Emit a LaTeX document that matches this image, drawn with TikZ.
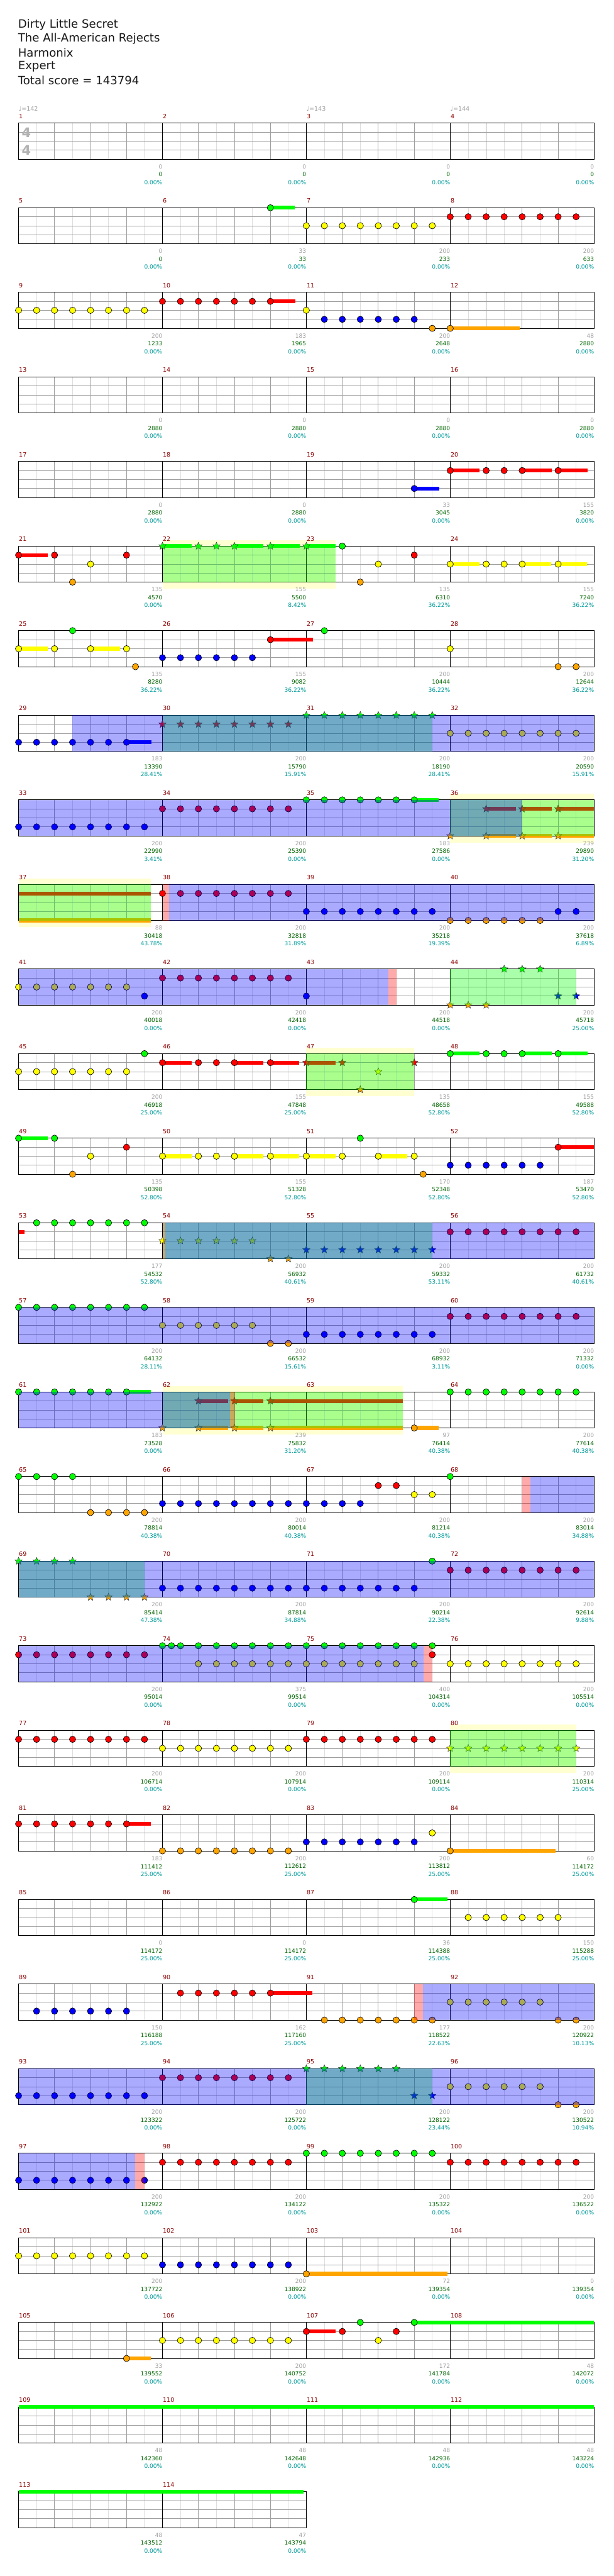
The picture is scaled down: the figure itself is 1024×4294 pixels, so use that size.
\documentclass[tikz,border=0pt]{standalone}
\usepackage{fontspec}
\setmainfont{DejaVu Sans}
\usetikzlibrary{shapes.geometric}

\definecolor{gemgreen}{HTML}{00FF00}
\definecolor{gemred}{HTML}{FF0000}
\definecolor{gemyellow}{HTML}{FFFF00}
\definecolor{gemblue}{HTML}{0000FF}
\definecolor{gemorange}{HTML}{FFA500}
\definecolor{barred}{HTML}{8B0000}
\definecolor{sumgreen}{HTML}{006400}
\definecolor{pctcyan}{HTML}{009B9B}
\definecolor{numgray}{HTML}{A0A0A0}
\definecolor{phrasebg}{HTML}{FFFFD2}

\tikzset{
  row/.style={shift={(0,{205.3+141*(#1-1)})}},
  eighthline/.style={draw=black!13, line width=0.9pt},
  beatline/.style={draw=black!38, line width=0.9pt},
  barline/.style={draw=black, line width=1pt},
  gem/.style={draw=black, line width=0.7pt},
  stargem/.style={star, star points=5, star point ratio=2.3, draw=black!80, line width=0.5pt, inner sep=0pt, minimum size=13pt},
  tail/.style={line width=6.5pt},
  barnum/.style={anchor=base west, inner sep=0pt, text=barred, font=\fontsize{10}{10}\selectfont},
  lbl/.style={anchor=east, inner sep=0pt, font=\fontsize{9.5}{10}\selectfont},
  titleline/.style={anchor=west, inner sep=0pt, text=black!90, font=\fontsize{19}{20}\selectfont},
  tempo/.style={anchor=base west, inner sep=0pt, text=numgray, font=\fontsize{10}{10}\selectfont},
  timesig/.style={inner sep=0pt, text=black!30, font=\fontsize{22}{22}\selectfont\bfseries}
}

% one staff line of bars: #1 eighths, #2 first bar number
\newcommand{\staff}[2]{%
  \foreach \i in {1,3,...,#1} \draw[eighthline] ({31+30*\i},0) -- ({31+30*\i},60);
  \foreach \i in {2,4,...,#1} \draw[beatline] ({31+30*\i},0) -- ({31+30*\i},60);
  \foreach \l in {15,30,45} \draw[beatline] (31,\l) -- ({31+30*#1},\l);
  \foreach \i in {8,16,...,#1} \draw[barline] ({31+30*\i},0) -- ({31+30*\i},60);
  \draw[barline] (31,0) rectangle ({31+30*#1},60);
  \pgfmathtruncatemacro{\nb}{#1/8-1}
  \foreach \k in {0,...,\nb} {\pgfmathtruncatemacro{\bn}{#2+\k}\node[barnum] at ({31.5+240*\k},-8) {\bn};}
}
% notes: lane, colour, positions (in eighths from the start of the line)
\newcommand{\gemrow}[3]{\foreach \p in {#3} \filldraw[gem, fill=#2] ({31+30*\p},{15*#1}) circle (5.3pt);}
\newcommand{\stargems}[3]{\foreach \p in {#3} \node[stargem, fill=#2] (sg-#1-\p) at ({31+30*\p},{15*#1}) {};}
\newcommand{\sus}[4]{\draw[tail, #2] ({31+30*#3},{15*#1}) -- ({31+30*#4},{15*#1});}
% shaded zones
\newcommand{\litbg}[2]{\fill[phrasebg] ({31+30*#1},-10) rectangle ({31+30*#2},71);}
\newcommand{\spzone}[2]{\fill[gemgreen, fill opacity=0.333] ({31+30*#1},0) rectangle ({31+30*#2},60);}
\newcommand{\odzone}[2]{\fill[gemblue, fill opacity=0.333] ({31+30*#1},0) rectangle ({31+30*#2},60);}
\newcommand{\pkzone}[2]{\fill[gemred, fill opacity=0.333] ({31+30*#1},0) rectangle ({31+30*#2},60);}
% numbers under each bar
\newcommand{\tallies}[1]{\foreach \pos/\np/\ns/\pc in {#1} {%
  \node[lbl, text=numgray] at ({31+30*\pos},72.6) {\np};
  \node[lbl, text=sumgreen] at ({31+30*\pos},85.8) {\ns};
  \node[lbl, text=pctcyan] at ({31+30*\pos},98.6) {\pc\%};}}

\begin{document}
\begin{tikzpicture}[x=1pt,y=-1pt]
\useasboundingbox[fill=white] (0,0) rectangle (1024,4294);

\node[titleline] (song) at (30,41.7) {Dirty Little Secret};
\node[titleline] (artist) at (30,64.8) {The All-American Rejects};
\node[titleline] (charter) at (30,87.9) {Harmonix};
\node[titleline] (level) at (30,111) {Expert};
\node[titleline] (total) at (30,134.1) {Total score = 143794};

% bars 1-4
\begin{scope}[row=1]
  \staff{32}{1}
  \node[timesig] (sigtop) at (44,16) {4};
  \node[timesig] (sigbot) at (44,45) {4};
  \node[tempo] (bpm1) at (31,-20.5) {♩=142};
  \node[tempo] (bpm2) at (511,-20.5) {♩=143};
  \node[tempo] (bpm3) at (751,-20.5) {♩=144};
  \tallies{8/0/0/0.00, 16/0/0/0.00, 24/0/0/0.00, 32/0/0/0.00}
\end{scope}

% bars 5-8
\begin{scope}[row=2]
  \staff{32}{5}
  \sus{0}{gemgreen}{14}{15.35}
  \gemrow{0}{gemgreen}{14}
  \gemrow{2}{gemyellow}{16,...,23}
  \gemrow{1}{gemred}{24,...,31}
  \tallies{8/0/0/0.00, 16/33/33/0.00, 24/200/233/0.00, 32/200/633/0.00}
\end{scope}

% bars 9-12
\begin{scope}[row=3]
  \staff{32}{9}
  \sus{1}{gemred}{14}{15.38}
  \sus{4}{gemorange}{24}{27.87}
  \gemrow{2}{gemyellow}{0,...,7,16}
  \gemrow{1}{gemred}{8,...,14}
  \gemrow{3}{gemblue}{17,...,22}
  \gemrow{4}{gemorange}{23,24}
  \tallies{8/200/1233/0.00, 16/183/1965/0.00, 24/200/2648/0.00, 32/48/2880/0.00}
\end{scope}

% bars 13-16
\begin{scope}[row=4]
  \staff{32}{13}
  \tallies{8/0/2880/0.00, 16/0/2880/0.00, 24/0/2880/0.00, 32/0/2880/0.00}
\end{scope}

% bars 17-20
\begin{scope}[row=5]
  \staff{32}{17}
  \sus{3}{gemblue}{22}{23.38}
  \sus{1}{gemred}{24}{25.63}
  \sus{1}{gemred}{28}{29.64}
  \sus{1}{gemred}{30}{31.65}
  \gemrow{3}{gemblue}{22}
  \gemrow{1}{gemred}{24,26,27,28,30}
  \tallies{8/0/2880/0.00, 16/0/2880/0.00, 24/33/3045/0.00, 32/155/3820/0.00}
\end{scope}

% bars 21-24
\begin{scope}[row=6]
  \litbg{8}{17.62}
  \staff{32}{21}
  \sus{1}{gemred}{0}{1.63}
  \sus{0}{gemgreen}{8}{9.62}
  \sus{0}{gemgreen}{12}{13.62}
  \sus{0}{gemgreen}{14}{15.62}
  \sus{0}{gemgreen}{16}{17.62}
  \sus{2}{gemyellow}{24}{25.62}
  \sus{2}{gemyellow}{28}{29.62}
  \sus{2}{gemyellow}{30}{31.62}
  \gemrow{1}{gemred}{0,2,6,22}
  \gemrow{4}{gemorange}{3,19}
  \gemrow{2}{gemyellow}{4,20,24,26,27,28,30}
  \gemrow{0}{gemgreen}{18}
  \stargems{0}{gemgreen}{8,10,11,12,14,16}
  \spzone{8}{17.62}
  \tallies{8/135/4570/0.00, 16/155/5500/8.42, 24/135/6310/36.22, 32/155/7240/36.22}
\end{scope}

% bars 25-28
\begin{scope}[row=7]
  \staff{32}{25}
  \sus{2}{gemyellow}{0}{1.63}
  \sus{2}{gemyellow}{4}{5.63}
  \sus{1}{gemred}{14}{16.38}
  \gemrow{2}{gemyellow}{0,2,4,6,24,...,29}
  \gemrow{0}{gemgreen}{3,17,...,23}
  \gemrow{4}{gemorange}{6.5,30,31}
  \gemrow{3}{gemblue}{8,...,13}
  \gemrow{1}{gemred}{14}
  \tallies{8/135/8280/36.22, 16/155/9082/36.22, 24/200/10444/36.22, 32/200/12644/36.22}
\end{scope}

% bars 29-32
\begin{scope}[row=8]
  \staff{32}{29}
  \sus{3}{gemblue}{6}{7.39}
  \gemrow{3}{gemblue}{0,...,6}
  \stargems{1}{gemred}{8,...,15}
  \stargems{0}{gemgreen}{16,...,23}
  \gemrow{2}{gemyellow}{24,...,31}
  \spzone{8}{23}
  \odzone{3}{32}
  \tallies{8/183/13390/28.41, 16/200/15790/15.91, 24/200/18190/28.41, 32/200/20590/15.91}
\end{scope}

% bars 33-36
\begin{scope}[row=9]
  \litbg{24}{32}
  \staff{32}{33}
  \sus{0}{gemgreen}{22}{23.36}
  \foreach \s/\e in {26/27.64, 28/29.64, 30/32} {\sus{1}{gemred}{\s}{\e}\sus{4}{gemorange}{\s}{\e}}
  \gemrow{3}{gemblue}{0,...,7}
  \gemrow{1}{gemred}{8,...,15}
  \gemrow{0}{gemgreen}{16,...,22}
  \stargems{1}{gemred}{26,28,30}
  \stargems{4}{gemorange}{24,26,28,30}
  \spzone{24}{32}
  \odzone{0}{28}
  \tallies{8/200/22990/3.41, 16/200/25390/0.00, 24/183/27586/0.00, 32/239/29890/31.20}
\end{scope}

% bars 37-40
\begin{scope}[row=10]
  \litbg{0}{7.36}
  \staff{32}{37}
  \sus{1}{gemred}{0}{7.36}
  \sus{4}{gemorange}{0}{7.36}
  \gemrow{1}{gemred}{8,...,15}
  \gemrow{3}{gemblue}{16,...,23,30,31}
  \gemrow{4}{gemorange}{24,...,29}
  \spzone{0}{7.36}
  \pkzone{8}{8.37}
  \odzone{8.37}{32}
  \tallies{8/88/30418/43.78, 16/200/32818/31.89, 24/200/35218/19.39, 32/200/37618/6.89}
\end{scope}

% bars 41-44
\begin{scope}[row=11]
  \staff{32}{41}
  \gemrow{2}{gemyellow}{0,...,6}
  \gemrow{3}{gemblue}{7,16,...,23}
  \gemrow{1}{gemred}{8,...,15}
  \stargems{4}{gemorange}{24,25,26}
  \stargems{0}{gemgreen}{27,28,29}
  \stargems{3}{gemblue}{30,31}
  \spzone{24}{31}
  \odzone{0}{20.55}
  \pkzone{20.55}{21}
  \tallies{8/200/40018/0.00, 16/200/42418/0.00, 24/200/44518/0.00, 32/200/45718/25.00}
\end{scope}

% bars 45-48
\begin{scope}[row=12]
  \litbg{16}{22}
  \staff{32}{45}
  \sus{1}{gemred}{8}{9.63}
  \sus{1}{gemred}{12}{13.62}
  \sus{1}{gemred}{14}{15.6}
  \sus{1}{gemred}{16}{17.61}
  \sus{0}{gemgreen}{24}{25.63}
  \sus{0}{gemgreen}{28}{29.64}
  \sus{0}{gemgreen}{30}{31.64}
  \gemrow{2}{gemyellow}{0,...,6}
  \gemrow{0}{gemgreen}{7,24,26,27,28,30}
  \gemrow{1}{gemred}{8,10,11,12,14}
  \stargems{1}{gemred}{16,18,22}
  \stargems{4}{gemorange}{19}
  \stargems{2}{gemyellow}{20}
  \spzone{16}{22}
  \tallies{8/200/46918/25.00, 16/155/47848/25.00, 24/135/48658/52.80, 32/155/49588/52.80}
\end{scope}

% bars 49-52
\begin{scope}[row=13]
  \staff{32}{49}
  \sus{0}{gemgreen}{0}{1.61}
  \foreach \s/\e in {8/9.63, 12/13.62, 14/15.6, 16/17.61, 20/21.6} {\sus{2}{gemyellow}{\s}{\e}}
  \sus{1}{gemred}{30}{32}
  \gemrow{0}{gemgreen}{0,2,19}
  \gemrow{4}{gemorange}{3,22.5}
  \gemrow{2}{gemyellow}{4,8,10,11,12,14,16,18,20,22}
  \gemrow{1}{gemred}{6,30}
  \gemrow{3}{gemblue}{24,...,29}
  \tallies{8/135/50398/52.80, 16/155/51328/52.80, 24/170/52348/52.80, 32/187/53470/52.80}
\end{scope}

% bars 53-56
\begin{scope}[row=14]
  \staff{32}{53}
  \sus{1}{gemred}{0}{0.33}
  \gemrow{0}{gemgreen}{1,...,7}
  \stargems{2}{gemyellow}{8,...,13}
  \stargems{4}{gemorange}{14,15}
  \stargems{3}{gemblue}{16,...,23}
  \gemrow{1}{gemred}{24,...,31}
  \spzone{8}{23}
  \pkzone{8}{8.17}
  \odzone{8.17}{32}
  \tallies{8/177/54532/52.80, 16/200/56932/40.61, 24/200/59332/53.11, 32/200/61732/40.61}
\end{scope}

% bars 57-60
\begin{scope}[row=15]
  \staff{32}{57}
  \gemrow{0}{gemgreen}{0,...,7}
  \gemrow{2}{gemyellow}{8,...,13}
  \gemrow{4}{gemorange}{14,15}
  \gemrow{3}{gemblue}{16,...,23}
  \gemrow{1}{gemred}{24,...,31}
  \odzone{0}{32}
  \tallies{8/200/64132/28.11, 16/200/66532/15.61, 24/200/68932/3.11, 32/200/71332/0.00}
\end{scope}

% bars 61-64
\begin{scope}[row=16]
  \litbg{8}{21.36}
  \staff{32}{61}
  \sus{0}{gemgreen}{6}{7.36}
  \foreach \s/\e in {10/11.64, 12/13.62, 14/21.36} {\sus{1}{gemred}{\s}{\e}\sus{4}{gemorange}{\s}{\e}}
  \sus{4}{gemorange}{22}{23.36}
  \gemrow{0}{gemgreen}{0,...,6,24,25,26,27,28,29,30,31}
  \stargems{4}{gemorange}{8,10,12,14}
  \stargems{1}{gemred}{10,12,14}
  \gemrow{4}{gemorange}{22}
  \spzone{8}{21.36}
  \odzone{0}{11.77}
  \pkzone{11.77}{12.03}
  \tallies{8/183/73528/0.00, 16/239/75832/31.20, 24/97/76414/40.38, 32/200/77614/40.38}
\end{scope}

% bars 65-68
\begin{scope}[row=17]
  \staff{32}{65}
  \gemrow{0}{gemgreen}{0,1,2,3,24,...,31}
  \gemrow{4}{gemorange}{4,...,7}
  \gemrow{3}{gemblue}{8,...,19}
  \gemrow{1}{gemred}{20,21}
  \gemrow{2}{gemyellow}{22,23}
  \pkzone{28}{28.46}
  \odzone{28.46}{32}
  \tallies{8/200/78814/40.38, 16/200/80014/40.38, 24/200/81214/40.38, 32/200/83014/34.88}
\end{scope}

% bars 69-72
\begin{scope}[row=18]
  \staff{32}{69}
  \stargems{0}{gemgreen}{0,...,3}
  \stargems{4}{gemorange}{4,...,7}
  \gemrow{3}{gemblue}{8,...,22}
  \gemrow{0}{gemgreen}{23}
  \gemrow{1}{gemred}{24,...,31}
  \spzone{0}{7}
  \odzone{0}{32}
  \tallies{8/200/85414/47.38, 16/200/87814/34.88, 24/200/90214/22.38, 32/200/92614/9.88}
\end{scope}

% bars 73-76
\begin{scope}[row=19]
  \staff{32}{73}
  \gemrow{1}{gemred}{0,...,7,23}
  \gemrow{0}{gemgreen}{8,8.5,9,10,11,12,13,14,15,16,17,18,19,20,21,22,23}
  \gemrow{2}{gemyellow}{10,...,22,24,25,26,27,28,29,30,31}
  \odzone{0}{22.51}
  \pkzone{22.51}{23}
  \tallies{8/200/95014/0.00, 16/375/99514/0.00, 24/400/104314/0.00, 32/200/105514/0.00}
\end{scope}

% bars 77-80
\begin{scope}[row=20]
  \litbg{24}{31}
  \staff{32}{77}
  \gemrow{1}{gemred}{0,...,7,16,17,18,19,20,21,22,23}
  \gemrow{2}{gemyellow}{8,...,15}
  \stargems{2}{gemyellow}{24,...,31}
  \spzone{24}{31}
  \tallies{8/200/106714/0.00, 16/200/107914/0.00, 24/200/109114/0.00, 32/200/110314/25.00}
\end{scope}

% bars 81-84
\begin{scope}[row=21]
  \staff{32}{81}
  \sus{1}{gemred}{6}{7.36}
  \sus{4}{gemorange}{24}{29.84}
  \gemrow{1}{gemred}{0,...,6}
  \gemrow{4}{gemorange}{8,...,15,24}
  \gemrow{3}{gemblue}{16,...,22}
  \gemrow{2}{gemyellow}{23}
  \tallies{8/183/111412/25.00, 16/200/112612/25.00, 24/200/113812/25.00, 32/60/114172/25.00}
\end{scope}

% bars 85-88
\begin{scope}[row=22]
  \staff{32}{85}
  \sus{0}{gemgreen}{22}{23.85}
  \gemrow{0}{gemgreen}{22}
  \gemrow{2}{gemyellow}{25,...,30}
  \tallies{8/0/114172/25.00, 16/0/114172/25.00, 24/36/114388/25.00, 32/150/115288/25.00}
\end{scope}

% bars 89-92
\begin{scope}[row=23]
  \staff{32}{89}
  \sus{1}{gemred}{14}{16.35}
  \gemrow{3}{gemblue}{1,...,6}
  \gemrow{1}{gemred}{9,...,14}
  \gemrow{4}{gemorange}{17,...,23,30,31}
  \gemrow{2}{gemyellow}{24,...,29}
  \pkzone{22}{22.47}
  \odzone{22.47}{32}
  \tallies{8/150/116188/25.00, 16/162/117160/25.00, 24/177/118522/22.63, 32/200/120922/10.13}
\end{scope}

% bars 93-96
\begin{scope}[row=24]
  \staff{32}{93}
  \gemrow{3}{gemblue}{0,...,7}
  \gemrow{1}{gemred}{8,...,15}
  \stargems{0}{gemgreen}{16,...,21}
  \stargems{3}{gemblue}{22,23}
  \gemrow{2}{gemyellow}{24,...,29}
  \gemrow{4}{gemorange}{30,31}
  \spzone{16}{23}
  \odzone{0}{32}
  \tallies{8/200/123322/0.00, 16/200/125722/0.00, 24/200/128122/23.44, 32/200/130522/10.94}
\end{scope}

% bars 97-100
\begin{scope}[row=25]
  \staff{32}{97}
  \gemrow{3}{gemblue}{0,...,7}
  \gemrow{1}{gemred}{8,...,15,24,25,26,27,28,29,30,31}
  \gemrow{0}{gemgreen}{16,...,23}
  \odzone{0}{6.47}
  \pkzone{6.47}{7}
  \tallies{8/200/132922/0.00, 16/200/134122/0.00, 24/200/135322/0.00, 32/200/136522/0.00}
\end{scope}

% bars 101-104
\begin{scope}[row=26]
  \staff{32}{101}
  \sus{4}{gemorange}{16}{23.85}
  \gemrow{2}{gemyellow}{0,...,7}
  \gemrow{3}{gemblue}{8,...,15}
  \gemrow{4}{gemorange}{16}
  \tallies{8/200/137722/0.00, 16/200/138922/0.00, 24/72/139354/0.00, 32/0/139354/0.00}
\end{scope}

% bars 105-108
\begin{scope}[row=27]
  \staff{32}{105}
  \sus{4}{gemorange}{6}{7.36}
  \sus{1}{gemred}{16}{17.61}
  \sus{0}{gemgreen}{22}{32}
  \gemrow{4}{gemorange}{6}
  \gemrow{2}{gemyellow}{8,...,15,20}
  \gemrow{1}{gemred}{16,18,21}
  \gemrow{0}{gemgreen}{19,22}
  \tallies{8/33/139552/0.00, 16/200/140752/0.00, 24/172/141784/0.00, 32/48/142072/0.00}
\end{scope}

% bars 109-112
\begin{scope}[row=28]
  \staff{32}{109}
  \sus{0}{gemgreen}{0}{32}
  \tallies{8/48/142360/0.00, 16/48/142648/0.00, 24/48/142936/0.00, 32/48/143224/0.00}
\end{scope}

% bars 113-114
\begin{scope}[row=29]
  \staff{16}{113}
  \sus{0}{gemgreen}{0}{15.86}
  \tallies{8/48/143512/0.00, 16/47/143794/0.00}
\end{scope}
\end{tikzpicture}
\end{document}
